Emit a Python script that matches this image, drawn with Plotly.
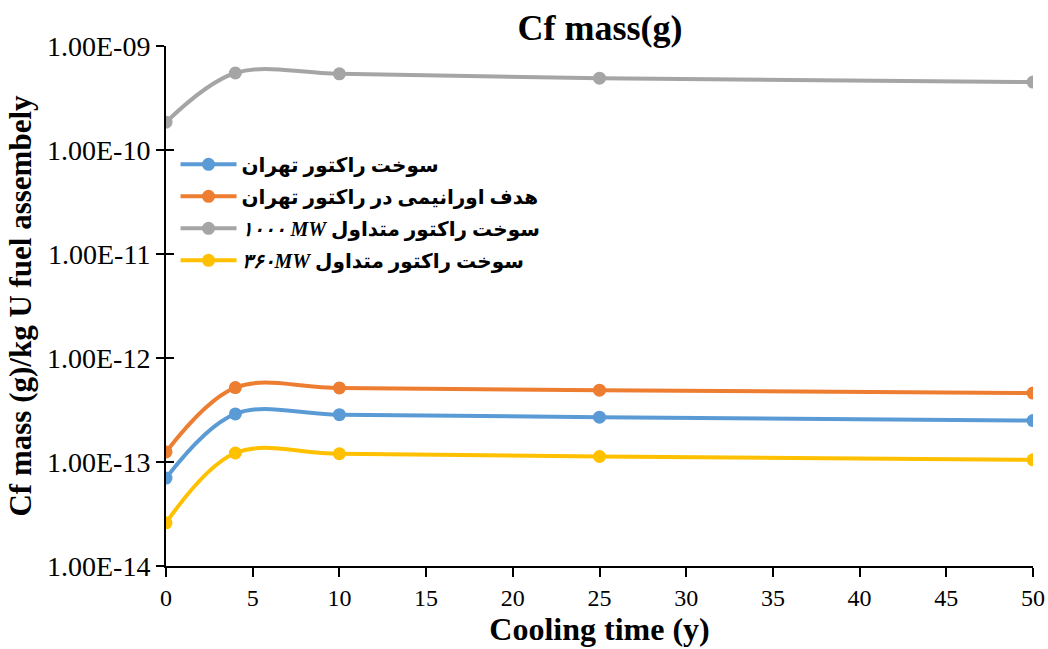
import plotly.graph_objects as go

x_years = [0, 4, 10, 25, 50]
names = [
    "سوخت راکتور تهران",
    "هدف اورانیمی در راکتور تهران",
    "<b><i>۱۰۰۰ MW</i></b> سوخت راکتور متداول",
    "<b><i>۳۶۰MW</i></b> سوخت راکتور متداول",
]
blue_vals = [7.0e-14, 2.9e-13, 2.85e-13, 2.7e-13, 2.5e-13]
orange_vals = [1.25e-13, 5.2e-13, 5.15e-13, 4.9e-13, 4.6e-13]
gray_vals = [1.85e-10, 5.5e-10, 5.4e-10, 4.9e-10, 4.5e-10]
yellow_vals = [2.6e-14, 1.22e-13, 1.2e-13, 1.13e-13, 1.05e-13]
colors = ["#5B9BD5", "#ED7D31", "#A5A5A5", "#FFC000"]
y_tickvals = [1e-14, 1e-13, 1e-12, 1e-11, 1e-10, 1e-9]
y_ticktext = ["1.00E-14", "1.00E-13", "1.00E-12", "1.00E-11", "1.00E-10", "1.00E-09"]
x_tickvals = list(range(0, 55, 5))

W, H = 1048, 649

fig = go.Figure()
for i, (name, vals, c) in enumerate(zip(names, [blue_vals, orange_vals, gray_vals, yellow_vals], colors)):
    fig.add_trace(go.Scatter(
        x=x_years, y=vals, name=name, mode="lines+markers", legendgroup=f"g{i}",
        line=dict(color=c, width=4, shape="spline", smoothing=1.0),
        marker=dict(color=c, size=13),
    ))
# empty trace so the overlaid axis (inside ticks) is drawn
fig.add_trace(go.Scatter(x=[], y=[], yaxis="y2", showlegend=False, hoverinfo="skip"))

font_main = "Times New Roman, Liberation Serif, serif"
fig.update_layout(
    width=W, height=H,
    margin=dict(l=166, r=15, t=46, b=83),
    paper_bgcolor="white", plot_bgcolor="white",
    title=dict(text="<b>Cf mass(g)</b>", x=600/W, xanchor="center", y=1-27/H, yanchor="middle",
               font=dict(family=font_main, size=36, color="black")),
    font=dict(family=font_main, color="black"),
    legend=dict(x=0.011, y=0.81, xanchor="left", yanchor="top",
                bgcolor="rgba(0,0,0,0)",
                font=dict(family="Times New Roman, DejaVu Sans, sans-serif", size=20, color="black", weight="bold"),
                itemwidth=56, tracegroupgap=3),
    showlegend=True,
)
fig.update_xaxes(
    range=[0, 50], tickvals=x_tickvals, showgrid=False, zeroline=False, automargin=False,
    showline=True, linecolor="black", linewidth=2, ticks="outside", ticklen=9,
    tickwidth=2, tickcolor="black", tickfont=dict(family=font_main, size=24),
    title=dict(text="<b>Cooling time (y)</b>", font=dict(family=font_main, size=32), standoff=6),
)
fig.update_yaxes(
    type="log", range=[-14, -9], tickvals=y_tickvals, ticktext=y_ticktext, automargin=False,
    showgrid=False, zeroline=False, showline=True, linecolor="black", linewidth=2,
    ticks="outside", ticklen=8, tickwidth=2, tickcolor="black",
    tickfont=dict(family=font_main, size=28),
    title=dict(text="<b>Cf mass (g)/kg U fuel assembely</b>", font=dict(family=font_main, size=31), standoff=6),
)
fig.update_layout(yaxis2=dict(
    type="log", range=[-14, -9], tickvals=y_tickvals, overlaying="y", side="left",
    anchor="x", showticklabels=False, showgrid=False, zeroline=False, showline=False,
    ticks="inside", ticklen=8, tickwidth=2, tickcolor="black", automargin=False,
))
fig.write_html("out.html", config={"displayModeBar": False},
               post_script="document.body.style.margin='0';document.body.style.overflow='hidden';")
